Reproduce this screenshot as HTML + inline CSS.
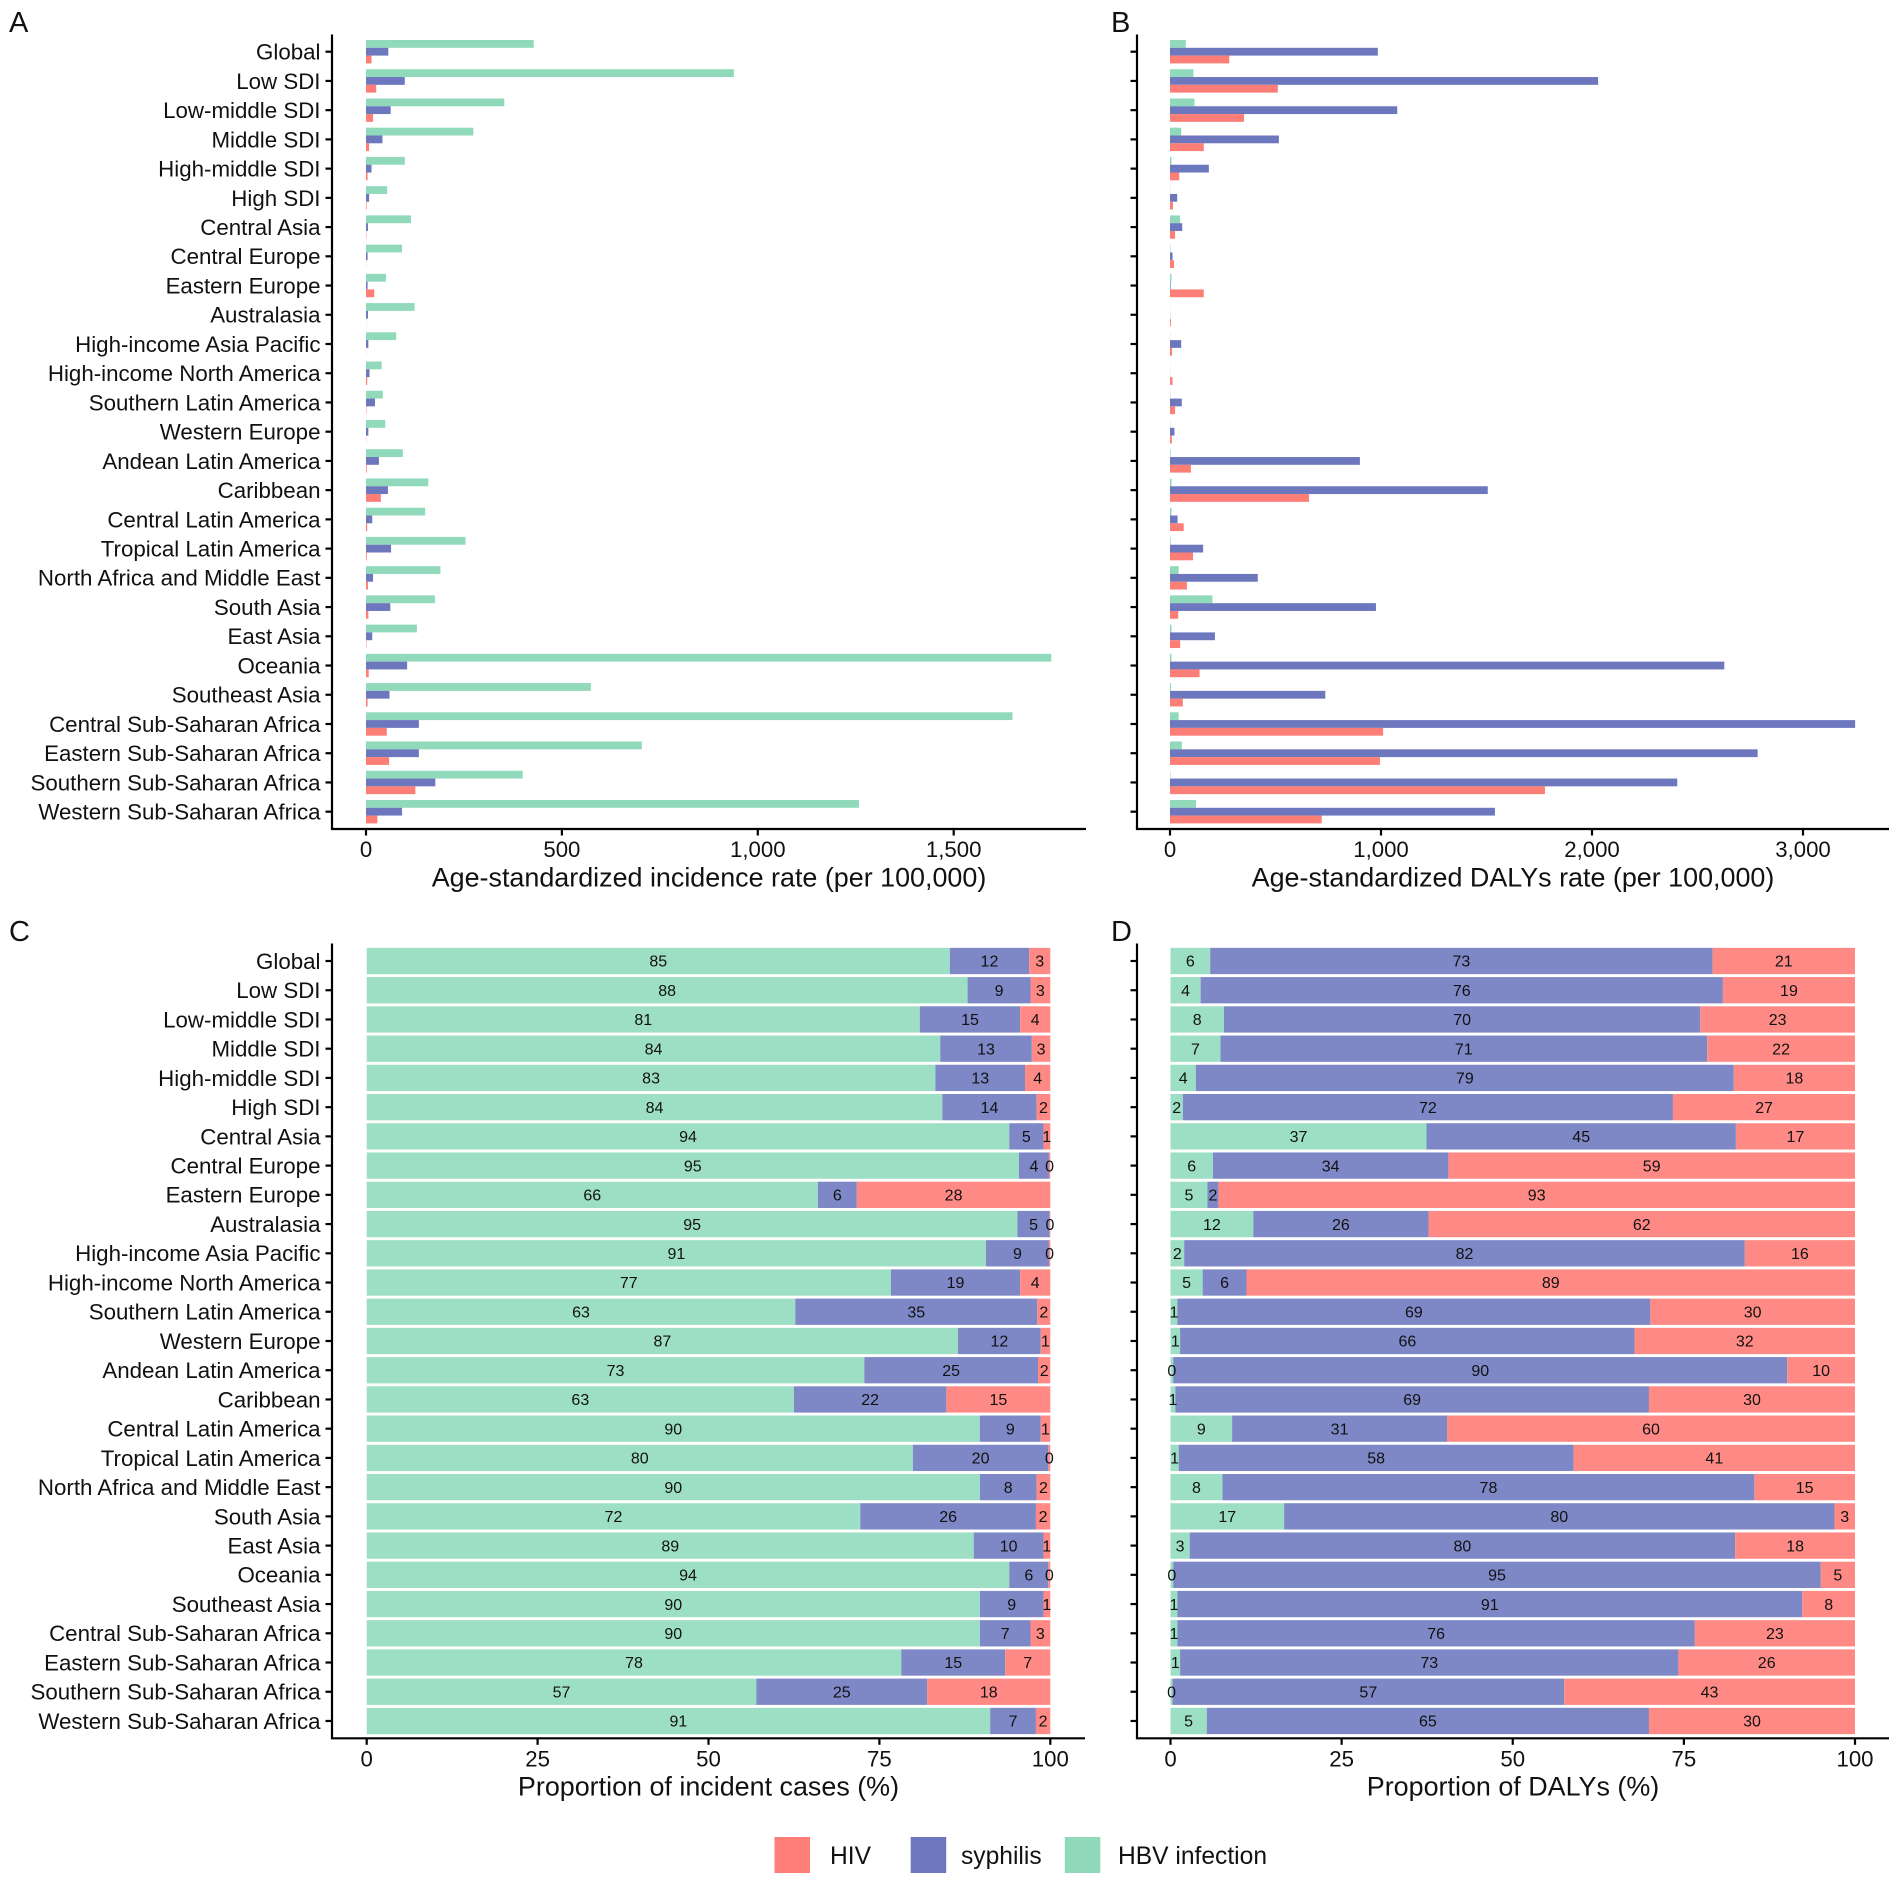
<!DOCTYPE html>
<html lang="en">
<head>
<meta charset="utf-8">
<title>HIV, syphilis and HBV infection burden</title>
<style>
html,body{margin:0;padding:0;background:#fff;}
svg{display:block;font-family:"Liberation Sans",Arial,sans-serif;fill:#111;}
</style>
</head>
<body>
<svg id="figure" width="1901" height="1884" viewBox="0 0 1901 1884" xmlns="http://www.w3.org/2000/svg"></svg>
<script>
const categories = ["Global","Low SDI","Low-middle SDI","Middle SDI","High-middle SDI","High SDI","Central Asia","Central Europe","Eastern Europe","Australasia","High-income Asia Pacific","High-income North America","Southern Latin America","Western Europe","Andean Latin America","Caribbean","Central Latin America","Tropical Latin America","North Africa and Middle East","South Asia","East Asia","Oceania","Southeast Asia","Central Sub-Saharan Africa","Eastern Sub-Saharan Africa","Southern Sub-Saharan Africa","Western Sub-Saharan Africa"];

const incidenceHbv = [428,939,353,274,99,54,115,92,51,124,77,40,43,49,94,159,151,254,190,176,130,1749,574,1650,704,400,1258];
const incidenceSyphilis = [57,99,63,42,14,8,5,4,4,5,6,9,23,6,33,56,16,64,18,62,16,105,60,135,135,177,92];
const incidenceHiv = [14,26,18,8,4,1.5,1,0.3,21,0.3,0.3,3,1,0.5,2,38,3,2,5,6,1,7,4,53,59,126,29];

const dalysHbv = [75,111,116,53,7,1,48,2,7,0.5,1,0.5,1,1,3,7,7,3,41,201,7,7,5,41,56,2,123];
const dalysSyphilis = [985,2029,1077,516,184,34,58,12,3,0.5,53,0.5,56,21,900,1506,36,157,416,976,213,2627,736,3247,2785,2404,1540];
const dalysHiv = [281,511,351,160,44,14,24,19,160,4,10,12,24,9,99,659,65,109,80,39,48,140,61,1010,995,1777,719];

const casesShareHbv = [85.3,87.9,80.9,83.9,83.2,84.2,94.0,95.4,66.0,95.2,90.6,76.6,62.7,86.5,72.8,62.5,89.6,79.9,89.7,72.2,88.8,94.0,89.7,89.7,78.2,57.0,91.2];
const casesShareSyphilis = [11.6,9.2,14.7,13.4,13.1,13.8,5.0,4.4,5.7,4.7,9.2,18.9,35.4,12.1,25.4,22.3,8.9,19.8,8.3,25.7,10.2,5.7,9.3,7.4,15.2,25.0,6.7];
const casesShareHiv = [3.1,2.9,4.4,2.7,3.7,2.0,1.0,0.2,28.3,0.1,0.2,4.4,1.9,1.4,1.8,15.2,1.4,0.3,2.0,2.1,1.0,0.3,1.0,2.9,6.6,18.0,2.1];

const dalysShareHbv = [5.8,4.4,7.8,7.3,3.7,1.8,37.4,6.2,5.4,12.1,2.0,4.7,1.0,1.4,0.4,0.7,9.0,1.2,7.6,16.6,2.8,0.4,1.0,1.0,1.4,0.3,5.3];
const dalysShareSyphilis = [73.4,76.3,69.6,71.1,78.6,71.6,45.2,34.4,1.6,25.6,81.9,6.4,69.1,66.4,89.7,69.2,31.4,57.7,77.7,80.4,79.7,94.6,91.3,75.6,72.8,57.2,64.6];
const dalysShareHiv = [20.8,19.3,22.6,21.6,17.7,26.6,17.4,59.4,93.0,62.3,16.1,88.9,29.9,32.2,9.9,30.1,59.6,41.1,14.7,3.0,17.5,5.0,7.7,23.4,25.8,42.5,30.1];

const incidenceTicks = [0,500,1000,1500];
const dalysTicks = [0,1000,2000,3000];
const shareTicks = [0,25,50,75,100];

const NS = 'http://www.w3.org/2000/svg';
const svg = document.getElementById('figure');
const BAR_COLORS = {hbv:'#90d9bb', syphilis:'#6d77bd', hiv:'#fd7e77'};
const STACK_COLORS = {hbv:'#9ddfc4', syphilis:'#7f88c6', hiv:'#ff8a85'};
const STEP = 29.23;

function node(parent, tag, attrs, text) {
  const el = document.createElementNS(NS, tag);
  for (const k in attrs) el.setAttribute(k, attrs[k]);
  if (text !== undefined) el.textContent = text;
  parent.appendChild(el);
  return el;
}
function fmt(v) { return v.toLocaleString('en-US'); }

function drawAxes(p, g) {
  const yLine = node(g, 'line', {x1:p.left, x2:p.left, y1:p.top, y2:p.bottom, stroke:'#000', 'stroke-width':2.2});
  
  
  const xLine = node(g, 'line', {x1:p.left-1.1, x2:p.right, y1:p.bottom, y2:p.bottom, stroke:'#000', 'stroke-width':2.2});
  
  
  categories.forEach(function (c, i) {
    const y = p.y(i);
    const tick = node(g, 'line', {x1:p.left-6.5, x2:p.left, y1:y, y2:y, stroke:'#000', 'stroke-width':2.2});
    
    
    if (p.showLabels) {
      const t = node(g, 'text', {x:320.5, y:y+7.9, 'text-anchor':'end', 'font-size':22.3}, c);
      
      
    }
  });
  p.ticks.forEach(function (v) {
    const x = p.x(v);
    const tick = node(g, 'line', {x1:x, x2:x, y1:p.bottom, y2:p.bottom+6.5, stroke:'#000', 'stroke-width':2.2});
    
    
    const t = node(g, 'text', {x:x, y:p.bottom+28, 'text-anchor':'middle', 'font-size':22.2}, fmt(v));
    
    
  });
  const title = node(g, 'text', {x:(p.left+p.right)/2, y:p.bottom+57.3, 'text-anchor':'middle', 'font-size':26.9}, p.title);
  
  
  const letter = node(g, 'text', {x:p.letterX, y:p.letterY, 'font-size':29}, p.letter);
  
  
}

function drawGrouped(p, g, hbv, syphilis, hiv) {
  const h = STEP * 0.8 / 3;
  categories.forEach(function (c, i) {
    const y = p.y(i) - h * 1.5;
    [[hbv, 'hbv'], [syphilis, 'syphilis'], [hiv, 'hiv']].forEach(function (s, j) {
      const r = node(g, 'rect', {x:p.x(0), y:y + j*h, width:Math.max(0, p.x(s[0][i]) - p.x(0)), height:h, fill:BAR_COLORS[s[1]]});
      
      
    });
  });
}

function drawStacked(p, g, hbv, syphilis, hiv) {
  const h = STEP * 0.9;
  categories.forEach(function (c, i) {
    const y = p.y(i) - h / 2;
    const total = hbv[i] + syphilis[i] + hiv[i];
    let cum = 0;
    [[hbv, 'hbv'], [syphilis, 'syphilis'], [hiv, 'hiv']].forEach(function (s) {
      const raw = s[0][i];
      const share = raw / total * 100;
      const x0 = p.x(cum), x1 = p.x(cum + share);
      const r = node(g, 'rect', {x:x0, y:y, width:Math.max(0, x1 - x0), height:h, fill:STACK_COLORS[s[1]]});
      
      
      cum += share;
    });
    cum = 0;
    [[hbv, 'hbv'], [syphilis, 'syphilis'], [hiv, 'hiv']].forEach(function (s) {
      const raw = s[0][i];
      const share = raw / total * 100;
      const t = node(g, 'text', {x:p.x(cum + share/2), y:p.y(i)+5.7, 'text-anchor':'middle', 'font-size':16}, String(Math.round(raw)));
      
      
      cum += share;
    });
  });
}

function makeY(first) { return function (i) { return first + i * STEP; }; }
function makeX(zero, perUnit) { return function (v) { return zero + v * perUnit; }; }

const panels = [
  {letter:'A', letterX:9, letterY:32, left:332, right:1086, top:34.5, bottom:829, y:makeY(51.7), x:makeX(366, 0.3918), ticks:incidenceTicks, showLabels:true, title:'Age-standardized incidence rate (per 100,000)', kind:'bars', hbv:incidenceHbv, syphilis:incidenceSyphilis, hiv:incidenceHiv},
  {letter:'B', letterX:1111, letterY:32, left:1137, right:1889, top:34.5, bottom:829, y:makeY(51.7), x:makeX(1170, 0.211), ticks:dalysTicks, showLabels:false, title:'Age-standardized DALYs rate (per 100,000)', kind:'bars', hbv:dalysHbv, syphilis:dalysSyphilis, hiv:dalysHiv},
  {letter:'C', letterX:9, letterY:941, left:332, right:1085, top:943.5, bottom:1738.3, y:makeY(961), x:makeX(366.7, 6.836), ticks:shareTicks, showLabels:true, title:'Proportion of incident cases (%)', kind:'stack', hbv:casesShareHbv, syphilis:casesShareSyphilis, hiv:casesShareHiv},
  {letter:'D', letterX:1111, letterY:941, left:1137, right:1889, top:943.5, bottom:1738.3, y:makeY(961), x:makeX(1170.5, 6.845), ticks:shareTicks, showLabels:false, title:'Proportion of DALYs (%)', kind:'stack', hbv:dalysShareHbv, syphilis:dalysShareSyphilis, hiv:dalysShareHiv}
];

panels.forEach(function (p) {
  const g = node(svg, 'g', {});
  
  
  if (p.kind === 'bars') drawGrouped(p, g, p.hbv, p.syphilis, p.hiv);
  else drawStacked(p, g, p.hbv, p.syphilis, p.hiv);
  drawAxes(p, g);
});

const legendEntries = ['HIV', 'syphilis', 'HBV infection'];
const legendKeys = ['hiv', 'syphilis', 'hbv'];
const legendBoxX = [774.5, 910.7, 1064.8];
const legendTextX = [830, 961, 1118];
const legend = node(svg, 'g', {});


legendEntries.forEach(function (label, i) {
  const box = node(legend, 'rect', {x:legendBoxX[i], y:1837, width:35.5, height:36, fill:BAR_COLORS[legendKeys[i]]});
  
  
  const t = node(legend, 'text', {x:legendTextX[i], y:1864, 'font-size':24.6}, label);
  
  
});
</script>
</body>
</html>
